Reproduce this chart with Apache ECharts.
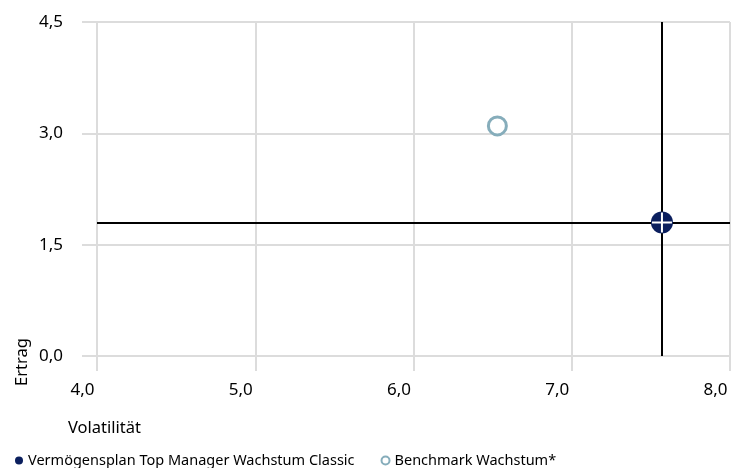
<!DOCTYPE html>
<html>
<head>
<meta charset="utf-8">
<script src="https://cdn.jsdelivr.net/npm/echarts@6/dist/echarts.min.js"></script>
<style>
  html, body { margin: 0; padding: 0; background: #fff; }
  #chart { width: 747px; height: 468px; }
</style>
</head>
<body>
<div id="chart"></div>
<script>
// Werte
const seriesNames = ['Vermögensplan Top Manager Wachstum Classic', 'Benchmark Wachstum*']
const fundPoint = [7.57, 1.8]
const benchPoint = [6.53, 3.1]
const xTicks = [4, 8, 1]   // min, max, interval
const yTicks = [0, 4.5, 1.5]

const font = 'Noto Sans'
const gridColor = '#dcdcdc'
const fmt = v => v.toFixed(1).replace('.', ',')

const chart = echarts.init(document.getElementById('chart'))

const option = {
  animation: false,
  textStyle: { fontFamily: font, color: '#000' },
  grid: { left: 97, right: 17, top: 22, bottom: 112 },
  xAxis: {
    type: 'value',
    min: xTicks[0],
    max: xTicks[1],
    interval: xTicks[2],
    axisLine: { show: false },
    axisTick: { show: true, length: 15, lineStyle: { color: gridColor, width: 2 } },
    splitLine: { show: true, lineStyle: { color: gridColor, width: 2 } },
    axisLabel: {
      formatter: fmt,
      fontSize: 17,
      fontFamily: font,
      color: '#000',
      margin: 26,
      padding: [0, 29, 0, 0]
    }
  },
  yAxis: {
    type: 'value',
    min: yTicks[0],
    max: yTicks[1],
    interval: yTicks[2],
    axisLine: { show: false },
    axisTick: { show: true, length: 15, lineStyle: { color: gridColor, width: 2 } },
    splitLine: { show: true, lineStyle: { color: gridColor, width: 2 } },
    axisLabel: { formatter: fmt, fontSize: 17, fontFamily: font, color: '#000', margin: 34 }
  },
  legend: {
    left: 10,
    top: 448,
    itemWidth: 8,
    itemHeight: 8,
    itemGap: 26,
    icon: 'circle',
    textStyle: { fontSize: 14.5, color: '#000', fontFamily: font },
    data: seriesNames
  },
  graphic: [
    {
      type: 'text',
      left: 68,
      top: 420,
      style: { text: 'Volatilität', font: '16.5px "Noto Sans"', fill: '#000' }
    },
    {
      type: 'text',
      x: 14,
      y: 386,
      rotation: Math.PI / 2,
      style: { text: 'Ertrag', font: '16.5px "Noto Sans"', fill: '#000' }
    }
  ],
  series: [
    {
      name: seriesNames[0],
      type: 'scatter',
      symbol: 'circle',
      symbolSize: 22,
      z: 3,
      itemStyle: { color: '#0b1f5e', opacity: 1 },
      data: [fundPoint],
      markLine: {
        silent: true,
        symbol: 'none',
        label: { show: false },
        lineStyle: { color: '#000', width: 2, type: 'solid' },
        z: 2,
        data: [{ xAxis: fundPoint[0] }, { yAxis: fundPoint[1] }]
      }
    },
    {
      name: seriesNames[1],
      type: 'scatter',
      symbol: 'circle',
      symbolSize: 18,
      itemStyle: { color: '#fff', borderColor: '#86adbb', borderWidth: 3, opacity: 1 },
      data: [benchPoint]
    },
    {
      // weißes Kreuz über dem Fondspunkt
      name: 'cross',
      type: 'scatter',
      symbol: 'path://M9,0h2v20h-2z M0,9h20v2h-20z',
      symbolSize: 20,
      z: 4,
      silent: true,
      itemStyle: { color: '#fff', opacity: 1 },
      data: [fundPoint]
    }
  ]
}

chart.setOption(option)
</script>
</body>
</html>
